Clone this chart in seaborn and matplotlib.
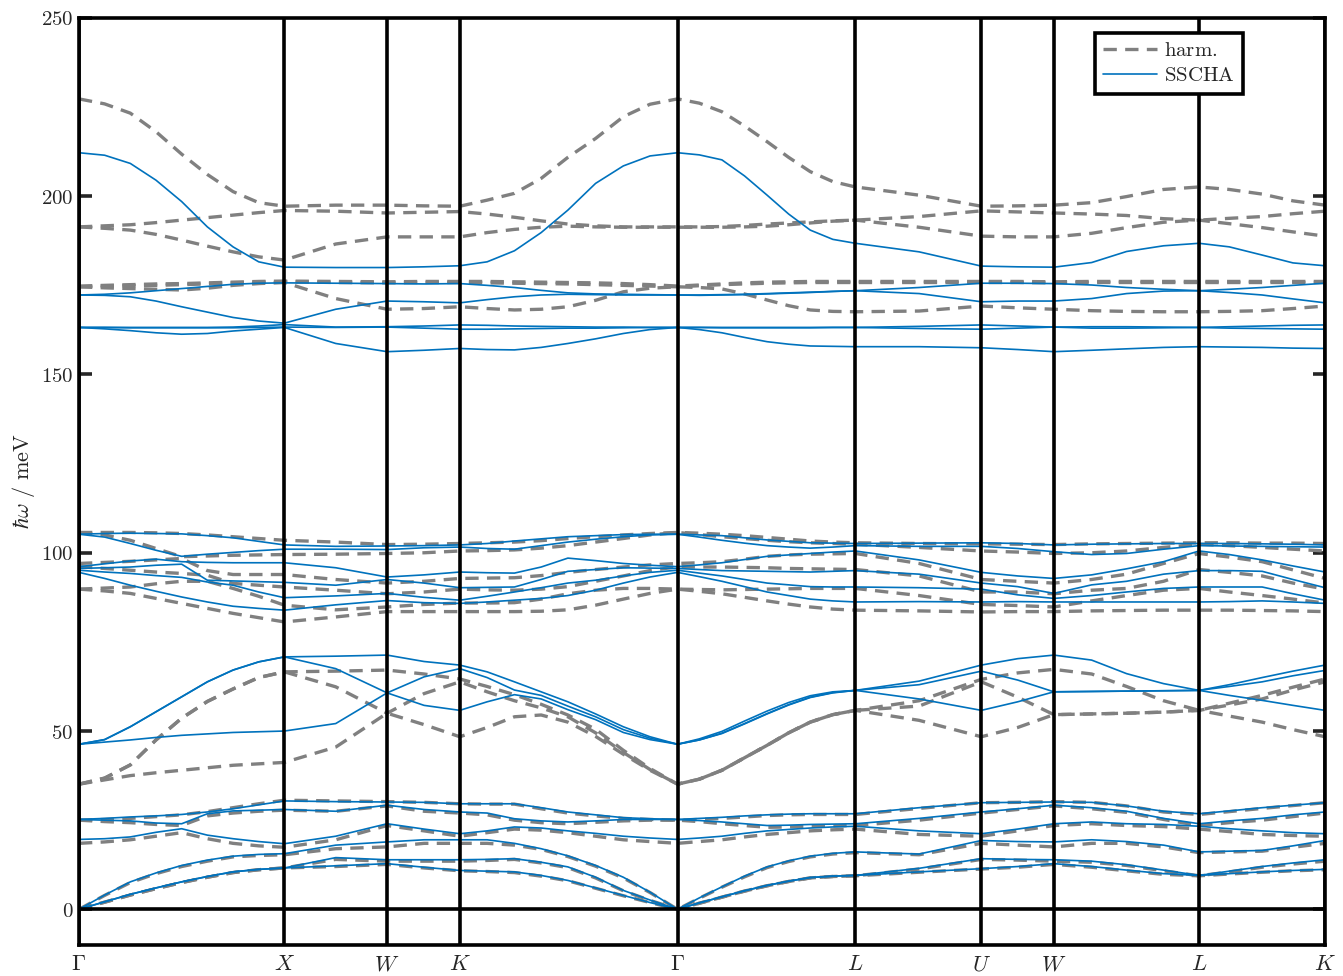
import matplotlib
matplotlib.use("Agg")
import matplotlib.pyplot as plt
from matplotlib.lines import Line2D
import pandas as pd
import seaborn as sns

# path coordinates of the sampled q-points (Γ-X-W-K-Γ-L-U-W-L-K)
kpath = [0.0, 0.125, 0.25, 0.375, 0.5, 0.625, 0.75, 0.875, 1.0,      # Γ-X
         1.25, 1.5,                                                   # X-W
         1.68, 1.854,                                                 # W-K
         1.987, 2.12, 2.25, 2.38, 2.515, 2.65, 2.78, 2.914,           # K-Γ
         3.02, 3.13, 3.24, 3.35, 3.455, 3.56, 3.67, 3.78,             # Γ-L
         4.09, 4.393,                                                 # L-U
         4.57, 4.746,                                                 # U-W
         4.93, 5.10, 5.28, 5.453,                                     # W-L
         5.60, 5.76, 5.91, 6.066]                                     # L-K
sym_pos = [0.0, 1.0, 1.5, 1.854, 2.914, 3.78, 4.393, 4.746, 5.453, 6.066]
sym_labels = [r"$\Gamma$", "$X$", "$W$", "$K$", r"$\Gamma$", "$L$", "$U$", "$W$", "$L$", "$K$"]
yticks = [0, 50, 100, 150, 200, 250]

# harmonic bands (meV)
harm_high = [
    [227.3, 225.9, 223.3, 218.1, 211.8, 206.1, 201.3, 198.2, 197.2, 197.5, 197.5, 197.3, 197.2,
     198.9, 200.8, 205.0, 210.9, 216.2, 222.3, 225.8, 227.3, 226.1, 223.7, 219.7, 215.3, 210.9, 206.9, 204.1, 202.6,
     200.3, 197.2, 197.3, 197.5, 198.2, 199.9, 201.9, 202.6, 201.9, 200.6, 198.7, 197.5],
    [191.4, 191.7, 192.0, 192.6, 193.3, 194.0, 194.7, 195.4, 196.0, 195.8, 195.3, 195.5, 195.7,
     195.0, 194.1, 193.1, 192.2, 191.7, 191.4, 191.4, 191.4, 191.4, 191.5, 191.8, 192.2, 192.5, 192.8, 193.1, 193.3,
     194.3, 195.9, 195.6, 195.3, 195.0, 194.6, 193.7, 193.3, 193.8, 194.3, 195.1, 195.8],
    [191.4, 191.0, 190.5, 189.3, 187.7, 186.0, 184.4, 183.0, 182.1, 186.6, 188.6, 188.6, 188.6,
     189.8, 190.7, 191.3, 191.6, 191.4, 191.3, 191.3, 191.3, 191.3, 191.3, 191.4, 191.6, 192.0, 192.5, 193.0, 193.3,
     191.3, 188.8, 188.6, 188.6, 189.6, 191.2, 192.7, 193.3, 192.3, 191.2, 190.0, 188.8],
    [174.8, 175.0, 175.2, 175.4, 175.5, 175.7, 175.9, 176.1, 176.2, 176.1, 176.0, 176.1, 176.1,
     176.1, 176.0, 175.9, 175.8, 175.7, 175.5, 175.2, 174.8, 175.1, 175.4, 175.7, 175.9, 176.0, 176.1, 176.1, 176.1,
     176.1, 176.1, 176.1, 176.0, 176.1, 176.1, 176.1, 176.1, 176.1, 176.1, 176.1, 176.1],
    [174.6, 174.8, 174.9, 175.0, 175.2, 175.4, 175.7, 175.9, 176.0, 175.8, 175.7, 175.8, 175.8,
     175.7, 175.6, 175.5, 175.4, 175.2, 175.0, 174.8, 174.6, 174.9, 175.2, 175.4, 175.6, 175.7, 175.8, 175.8, 175.8,
     175.8, 175.8, 175.8, 175.7, 175.8, 175.8, 175.8, 175.8, 175.8, 175.8, 175.8, 175.8],
    [174.6, 174.3, 174.1, 173.9, 173.7, 174.2, 175.0, 175.5, 175.8, 171.3, 168.3, 168.5, 169.0,
     168.5, 168.1, 168.3, 169.0, 170.8, 173.2, 174.2, 174.6, 174.4, 174.0, 172.6, 170.9, 169.3, 168.1, 167.7, 167.6,
     167.8, 169.2, 168.7, 168.3, 167.9, 167.7, 167.6, 167.6, 167.7, 167.9, 168.5, 169.2],
]
harm_mid = [
    [105.7, 105.7, 105.7, 105.6, 105.4, 105.0, 104.5, 104.0, 103.5, 103.0, 102.3, 102.4, 102.6,
     102.8, 103.0, 103.4, 104.0, 104.5, 105.0, 105.4, 105.7, 105.5, 105.2, 104.8, 104.3, 103.8, 103.3, 103.0, 102.8,
     102.6, 102.5, 102.4, 102.3, 102.5, 102.6, 102.7, 102.8, 102.8, 102.7, 102.7, 102.6],
    [105.7, 105.0, 103.5, 101.2, 98.9, 99.1, 99.3, 99.4, 99.5, 99.6, 99.8, 100.0, 100.5,
     100.6, 100.8, 101.3, 102.0, 103.0, 104.0, 105.0, 105.7, 105.1, 104.5, 104.0, 103.5, 103.1, 102.8, 102.6, 102.4,
     101.5, 100.5, 100.2, 99.8, 100.0, 100.5, 101.5, 102.4, 102.0, 101.5, 101.0, 100.5],
    [97.0, 97.3, 97.6, 98.0, 98.4, 95.0, 93.9, 93.9, 93.9, 92.5, 91.5, 92.0, 92.8,
     92.9, 93.0, 93.6, 94.5, 95.3, 96.0, 96.6, 97.0, 97.2, 97.5, 98.2, 99.0, 99.4, 99.6, 99.7, 99.8,
     97.0, 92.5, 92.0, 91.5, 92.5, 94.0, 97.0, 99.8, 98.8, 97.5, 95.2, 92.8],
    [96.1, 95.6, 95.1, 94.6, 94.2, 93.7, 91.4, 90.9, 90.4, 89.5, 88.5, 89.0, 89.8,
     89.6, 89.5, 89.8, 90.5, 92.0, 93.5, 95.0, 96.1, 96.0, 96.0, 95.9, 95.8, 95.6, 95.5, 95.4, 95.3,
     93.5, 89.0, 89.0, 88.5, 89.5, 90.0, 92.0, 95.3, 94.5, 93.5, 91.5, 89.8],
    [89.8, 90.1, 90.4, 91.3, 92.0, 92.0, 90.0, 87.8, 85.3, 84.0, 84.8, 85.5, 85.9,
     85.9, 86.0, 87.0, 88.5, 89.5, 90.0, 90.0, 89.8, 89.7, 89.6, 89.7, 89.8, 89.9, 90.0, 90.0, 90.0,
     88.0, 85.5, 85.2, 84.8, 86.5, 88.0, 89.5, 90.0, 89.0, 88.0, 87.0, 85.9],
    [89.8, 89.3, 88.6, 87.2, 85.8, 84.4, 83.0, 81.8, 80.6, 82.0, 83.5, 83.5, 83.5,
     83.5, 83.5, 83.6, 84.0, 85.3, 87.0, 88.6, 89.8, 89.2, 88.5, 87.5, 86.5, 85.6, 84.8, 84.2, 83.9,
     83.7, 83.4, 83.5, 83.5, 83.7, 83.8, 83.9, 83.9, 83.9, 83.8, 83.7, 83.5],
]
harm_opt = [
    [35.1, 36.8, 40.5, 47.5, 53.6, 58.3, 61.8, 65.0, 66.6, 66.8, 67.1, 66.0, 64.6,
     62.5, 60.2, 57.5, 54.5, 50.5, 44.6, 39.5, 35.1, 36.5, 39.0, 42.5, 46.0, 49.5, 52.5, 54.6, 55.8,
     58.5, 64.5, 66.3, 67.3, 66.0, 62.5, 58.5, 55.8, 57.8, 60.0, 62.3, 64.6],
    [35.1, 36.8, 40.5, 47.5, 53.6, 58.3, 61.8, 65.0, 66.6, 62.4, 55.0, 60.5, 63.8,
     61.0, 58.5, 56.5, 54.0, 49.5, 44.0, 39.2, 35.1, 36.5, 39.0, 42.5, 46.0, 49.5, 52.5, 54.6, 55.8,
     57.0, 63.8, 59.5, 54.6, 54.8, 55.0, 55.3, 55.8, 57.3, 59.0, 61.5, 63.8],
    [35.1, 36.3, 37.5, 38.3, 39.0, 39.7, 40.4, 40.8, 41.2, 45.5, 55.0, 51.8, 48.4,
     51.0, 54.0, 54.5, 52.5, 48.5, 43.5, 39.0, 35.1, 36.5, 39.0, 42.5, 46.0, 49.5, 52.5, 54.6, 55.8,
     53.0, 48.4, 51.0, 54.6, 54.8, 55.0, 55.3, 55.8, 54.2, 52.5, 50.4, 48.4],
]
harm_low = [
    [25.0, 25.2, 25.5, 26.0, 26.5, 27.4, 28.5, 29.6, 30.6, 30.4, 30.2, 30.0, 29.6,
     29.5, 29.5, 28.2, 27.0, 26.2, 25.5, 25.2, 25.0, 25.2, 25.5, 25.9, 26.3, 26.5, 26.6, 26.6, 26.6,
     28.3, 29.9, 30.0, 30.2, 30.0, 29.0, 27.3, 26.6, 27.4, 28.3, 29.1, 29.9],
    [25.0, 24.6, 24.3, 23.8, 23.5, 26.2, 27.0, 27.5, 27.8, 27.5, 29.0, 27.5, 27.0,
     26.5, 25.0, 24.3, 24.0, 24.4, 24.8, 25.0, 25.0, 24.6, 24.0, 23.5, 23.0, 23.1, 23.3, 23.4, 23.5,
     25.0, 27.0, 28.0, 29.0, 28.2, 27.2, 25.2, 23.5, 24.3, 25.0, 26.0, 27.0],
    [18.5, 18.9, 19.5, 20.5, 21.5, 19.8, 18.5, 17.8, 17.4, 19.5, 23.5, 22.0, 20.5,
     21.5, 22.5, 22.2, 21.5, 20.5, 19.5, 19.0, 18.5, 19.0, 19.5, 20.3, 21.0, 21.5, 22.0, 22.3, 22.5,
     21.0, 20.5, 22.0, 23.5, 24.0, 23.5, 23.2, 22.5, 21.8, 21.0, 20.7, 20.5],
    [0.0, 3.9, 7.5, 10.0, 12.0, 13.5, 14.7, 15.1, 15.3, 17.0, 17.5, 18.5, 18.5,
     18.5, 18.0, 16.8, 14.8, 12.1, 8.8, 4.7, 0.0, 3.1, 6.2, 9.1, 11.7, 13.4, 14.7, 15.5, 15.9,
     15.3, 18.5, 18.0, 17.5, 18.5, 18.5, 17.5, 15.9, 16.1, 16.3, 17.4, 18.5],
    [0.0, 2.0, 4.0, 5.8, 7.5, 9.0, 10.3, 11.1, 11.6, 14.0, 13.5, 13.5, 13.5,
     13.7, 14.0, 13.0, 11.7, 8.8, 5.2, 2.5, 0.0, 1.7, 3.4, 5.1, 6.6, 7.8, 8.8, 9.2, 9.4,
     11.3, 14.0, 13.8, 13.5, 13.2, 12.3, 10.8, 9.4, 10.5, 11.8, 12.7, 13.5],
    [0.0, 2.0, 4.0, 5.8, 7.5, 9.0, 10.3, 11.1, 11.6, 12.0, 12.6, 11.6, 10.8,
     10.6, 10.3, 9.3, 8.0, 5.9, 3.8, 1.9, 0.0, 1.7, 3.4, 5.1, 6.6, 7.8, 8.8, 9.2, 9.4,
     10.4, 11.3, 11.8, 12.6, 11.8, 10.8, 9.8, 9.4, 9.9, 10.4, 10.8, 11.1],
]

# SSCHA bands (meV)
sscha_high = [
    [212.2, 211.5, 209.2, 204.5, 198.5, 191.4, 185.8, 181.6, 180.1, 180.0, 180.0, 180.2, 180.5,
     181.6, 184.7, 189.8, 196.1, 203.6, 208.5, 211.3, 212.2, 211.6, 210.2, 205.7, 200.3, 195.0, 190.5, 187.9, 186.8,
     184.4, 180.4, 180.2, 180.1, 181.4, 184.5, 186.1, 186.8, 185.8, 183.5, 181.3, 180.5],
    [172.3, 172.5, 172.9, 173.5, 174.1, 174.7, 175.3, 175.6, 175.7, 175.6, 175.5, 175.4, 175.5,
     175.0, 174.4, 173.6, 172.9, 172.6, 172.5, 172.4, 172.3, 172.3, 172.4, 172.5, 172.7, 172.9, 173.1, 173.3, 173.5,
     174.4, 175.6, 175.6, 175.5, 175.1, 174.4, 173.9, 173.5, 173.9, 174.4, 175.0, 175.6],
    [172.3, 172.2, 171.8, 170.6, 169.0, 167.5, 166.0, 165.0, 164.4, 168.3, 170.6, 170.4, 170.1,
     171.0, 171.8, 172.3, 172.5, 172.4, 172.3, 172.3, 172.3, 172.2, 172.3, 172.4, 172.6, 172.8, 173.0, 173.3, 173.5,
     172.7, 170.4, 170.6, 170.6, 171.3, 172.7, 173.4, 173.5, 173.0, 172.3, 171.2, 170.1],
    [163.2, 163.2, 163.2, 163.2, 163.2, 163.2, 163.3, 163.6, 164.0, 163.3, 163.4, 163.6, 163.9,
     163.8, 163.6, 163.5, 163.4, 163.3, 163.3, 163.2, 163.2, 163.2, 163.2, 163.2, 163.2, 163.2, 163.2, 163.2, 163.2,
     163.5, 163.9, 163.6, 163.3, 163.4, 163.4, 163.3, 163.2, 163.4, 163.6, 163.8, 163.9],
    [163.2, 163.2, 163.1, 163.1, 163.1, 163.1, 163.1, 163.2, 163.3, 163.2, 163.3, 163.0, 162.7,
     162.7, 162.8, 162.9, 163.0, 163.0, 163.1, 163.2, 163.2, 163.2, 163.1, 163.1, 163.1, 163.1, 163.1, 163.2, 163.2,
     162.9, 162.7, 163.0, 163.3, 163.0, 163.0, 163.1, 163.2, 163.0, 162.9, 162.8, 162.7],
    [163.2, 162.8, 162.3, 161.7, 161.3, 161.5, 162.2, 162.7, 163.2, 158.7, 156.4, 156.8, 157.3,
     157.0, 156.9, 157.6, 158.7, 160.0, 161.5, 162.6, 163.2, 162.6, 161.7, 160.4, 159.2, 158.5, 158.0, 157.9, 157.8,
     157.8, 157.5, 157.0, 156.4, 156.8, 157.2, 157.6, 157.8, 157.7, 157.6, 157.4, 157.3],
]
sscha_mid = [
    [105.2, 105.4, 105.5, 105.4, 105.3, 104.8, 104.2, 103.2, 102.2, 101.8, 101.9, 102.0, 102.2,
     102.6, 103.3, 103.9, 104.5, 104.8, 105.1, 105.2, 105.2, 105.0, 104.8, 104.2, 103.6, 103.2, 102.8, 102.7, 102.6,
     102.7, 102.8, 102.6, 102.2, 102.4, 102.5, 102.6, 102.6, 102.6, 102.5, 102.4, 102.2],
    [105.2, 104.4, 102.6, 100.7, 99.0, 99.6, 100.1, 100.6, 101.0, 101.0, 100.9, 101.4, 101.6,
     101.2, 101.0, 102.0, 103.0, 103.8, 104.5, 105.0, 105.2, 104.4, 103.5, 102.7, 102.0, 101.6, 101.3, 101.6, 102.0,
     101.8, 101.8, 101.2, 100.3, 99.5, 99.8, 101.0, 102.0, 101.9, 101.8, 101.7, 101.6],
    [96.1, 96.9, 97.7, 98.2, 97.5, 97.3, 97.2, 97.2, 97.2, 95.8, 93.2, 93.8, 94.6,
     94.4, 94.3, 96.0, 98.5, 97.8, 97.0, 96.5, 96.1, 96.6, 97.2, 98.1, 99.0, 99.4, 99.8, 100.2, 100.5,
     98.0, 94.5, 93.5, 92.8, 93.8, 95.5, 97.5, 100.5, 99.5, 98.0, 96.3, 94.6],
    [95.6, 95.8, 96.0, 96.5, 96.8, 92.3, 92.1, 91.9, 91.7, 90.9, 92.5, 91.5, 90.2,
     90.3, 90.4, 92.5, 94.8, 95.3, 95.8, 95.7, 95.6, 95.3, 95.0, 94.9, 94.8, 94.7, 94.6, 94.8, 95.0,
     94.0, 91.5, 90.5, 88.6, 91.0, 92.0, 94.0, 95.0, 95.0, 94.8, 92.5, 90.2],
    [95.1, 94.6, 94.2, 93.6, 93.1, 91.8, 90.9, 89.0, 87.4, 87.9, 88.6, 87.5, 86.7,
     87.8, 89.0, 90.2, 91.5, 92.3, 93.5, 94.5, 95.1, 94.3, 93.5, 92.5, 91.5, 91.0, 90.5, 90.4, 90.4,
     90.2, 89.8, 88.2, 87.2, 88.0, 89.0, 90.0, 90.4, 90.4, 90.4, 88.5, 86.7],
    [94.5, 92.8, 90.9, 89.2, 87.6, 86.2, 85.0, 84.4, 83.9, 85.4, 86.6, 86.0, 85.8,
     86.2, 86.7, 87.2, 88.0, 89.5, 91.5, 93.2, 94.5, 93.3, 92.0, 90.5, 89.0, 88.0, 87.0, 86.5, 86.2,
     86.3, 86.2, 86.3, 86.2, 86.2, 86.2, 86.2, 86.2, 86.3, 86.5, 86.2, 85.8],
]
sscha_opt = [
    [46.3, 47.6, 51.2, 55.4, 59.6, 63.8, 67.1, 69.4, 70.8, 71.0, 71.3, 69.5, 68.5,
     66.6, 63.8, 61.0, 58.2, 54.8, 51.2, 48.4, 46.3, 47.8, 49.9, 52.8, 55.6, 58.0, 59.9, 61.0, 61.4,
     64.0, 68.5, 70.3, 71.3, 69.9, 66.1, 63.3, 61.4, 63.0, 65.0, 66.8, 68.5],
    [46.3, 47.6, 51.2, 55.4, 59.6, 63.8, 67.1, 69.4, 70.8, 67.5, 60.7, 65.2, 67.5,
     65.0, 61.5, 60.0, 57.0, 54.0, 50.4, 48.0, 46.3, 47.5, 49.4, 52.1, 54.9, 57.4, 59.5, 60.8, 61.4,
     63.0, 66.8, 64.3, 61.0, 61.1, 61.2, 61.3, 61.4, 62.5, 63.8, 65.5, 67.0],
    [46.3, 46.9, 47.5, 48.2, 48.8, 49.2, 49.6, 49.8, 50.0, 52.1, 60.7, 57.2, 55.8,
     58.2, 60.2, 59.0, 56.0, 53.2, 49.6, 47.6, 46.3, 47.5, 49.3, 52.0, 54.8, 57.3, 59.4, 60.7, 61.4,
     59.0, 55.8, 58.2, 61.0, 61.1, 61.2, 61.3, 61.4, 60.0, 58.6, 57.2, 55.8],
]
sscha_low = [
    [25.2, 25.5, 25.9, 26.2, 26.6, 27.3, 28.2, 29.3, 30.4, 30.2, 30.1, 30.0, 29.6,
     29.6, 29.6, 28.5, 27.3, 26.5, 25.7, 25.4, 25.2, 25.5, 25.8, 26.2, 26.5, 26.7, 26.8, 26.8, 26.8,
     28.5, 29.9, 30.0, 30.1, 30.0, 29.0, 27.5, 26.8, 27.6, 28.5, 29.2, 29.9],
    [25.2, 25.0, 24.8, 24.2, 24.0, 26.8, 27.6, 27.8, 28.0, 27.5, 29.2, 28.0, 27.3,
     27.0, 25.4, 24.8, 24.5, 24.8, 25.2, 25.2, 25.2, 24.9, 24.5, 24.0, 23.5, 23.6, 23.8, 23.9, 24.0,
     25.5, 27.3, 28.2, 29.2, 28.5, 27.5, 25.5, 24.0, 24.8, 25.5, 26.5, 27.3],
    [19.6, 19.8, 20.3, 21.6, 22.6, 20.8, 19.8, 19.0, 18.4, 20.5, 24.0, 22.5, 21.2,
     22.0, 23.1, 22.8, 22.0, 21.3, 20.5, 20.0, 19.6, 20.0, 20.5, 21.3, 22.0, 22.4, 22.8, 23.1, 23.3,
     22.0, 21.2, 22.5, 24.0, 24.5, 24.0, 23.8, 23.3, 22.6, 22.0, 21.5, 21.2],
    [0.0, 4.0, 7.7, 10.2, 12.3, 13.8, 14.9, 15.4, 15.6, 18.0, 18.9, 19.5, 19.5,
     19.5, 18.5, 17.0, 15.0, 12.3, 9.0, 4.8, 0.0, 3.2, 6.3, 9.3, 11.9, 13.6, 14.9, 15.7, 16.1,
     15.5, 19.3, 19.0, 18.9, 19.5, 19.0, 18.0, 16.1, 16.3, 16.5, 17.8, 19.3],
    [0.0, 2.1, 4.2, 6.0, 7.7, 9.2, 10.5, 11.2, 11.6, 14.5, 13.9, 13.9, 13.9,
     14.0, 14.2, 13.2, 11.9, 9.0, 5.3, 2.6, 0.0, 1.8, 3.5, 5.2, 6.7, 7.9, 8.9, 9.3, 9.5,
     11.5, 14.2, 14.0, 13.9, 13.5, 12.5, 11.0, 9.5, 10.7, 12.0, 13.0, 13.9],
    [0.0, 2.1, 4.2, 6.0, 7.7, 9.2, 10.5, 11.2, 11.6, 12.2, 12.8, 11.8, 10.9,
     10.7, 10.5, 9.5, 8.1, 6.0, 3.9, 1.9, 0.0, 1.8, 3.5, 5.2, 6.7, 7.9, 8.9, 9.3, 9.5,
     10.5, 11.4, 12.0, 12.8, 12.0, 11.0, 10.0, 9.5, 10.0, 10.5, 10.9, 11.2],
]


def to_frame(groups):
    """Long table: one row per (band, q-point)"""
    rows = []
    band_id = 0
    for group in groups:
        for band in group:
            if len(band) != len(kpath):
                raise ValueError(f"band {band_id} has {len(band)} points")
            for k, e in zip(kpath, band):
                rows.append({"k": k, "E": e, "band": band_id})
            band_id += 1
    return pd.DataFrame(rows)


def main():
    sns.set_theme(style="white")
    plt.rcParams["font.family"] = ["DejaVu Serif"]
    plt.rcParams["mathtext.fontset"] = "cm"

    df_harm = to_frame([harm_high, harm_mid, harm_opt, harm_low])
    df_ssc = to_frame([sscha_high, sscha_mid, sscha_opt, sscha_low])

    fig = plt.figure(figsize=(13.43, 9.76), dpi=100)
    ax = fig.add_axes([0.0588, 0.0318, 0.9278, 0.9498])

    harm_color = "#808080"
    ssc_color = "#0072BD"

    sns.lineplot(data=df_harm, x="k", y="E", units="band", estimator=None,
                 color=harm_color, linewidth=2.4, linestyle=(0, (4, 2.5)),
                 legend=False, ax=ax)
    sns.lineplot(data=df_ssc, x="k", y="E", units="band", estimator=None,
                 color=ssc_color, linewidth=1.2, legend=False, ax=ax)

    # high-symmetry lines and zero line
    for x in sym_pos:
        ax.axvline(x, color="black", linewidth=2.6, zorder=3)
    ax.axhline(0, color="black", linewidth=2.6, zorder=3)

    ax.set_xlim(sym_pos[0], sym_pos[-1])
    ax.set_ylim(-10, 250)
    ax.set_xticks(sym_pos)
    ax.set_xticklabels(sym_labels, fontsize=16)
    ax.set_yticks(yticks)
    ax.set_yticklabels([f"${v}$" for v in yticks], fontsize=15)
    ax.tick_params(axis="x", length=0, pad=6)
    ax.tick_params(axis="y", direction="in", length=9, width=2.6,
                   left=True, right=True, pad=4)
    ax.set_xlabel("")
    ax.set_ylabel(r"$\hbar\omega\ /\ \mathrm{meV}$", fontsize=16, labelpad=3)
    for sp in ax.spines.values():
        sp.set_linewidth(2.6)
        sp.set_color("black")

    handles = [
        Line2D([], [], color=harm_color, linewidth=2.4, linestyle=(0, (4, 2.5))),
        Line2D([], [], color=ssc_color, linewidth=1.2),
    ]
    leg = ax.legend(handles, [r"$\mathrm{harm.}$", r"$\mathrm{SSCHA}$"],
                    loc="upper right", bbox_to_anchor=(0.934, 0.984),
                    borderaxespad=0, fontsize=15, frameon=True, fancybox=False,
                    handlelength=2.6, handletextpad=0.3, borderpad=0.4,
                    labelspacing=0.3)
    leg.get_frame().set_edgecolor("black")
    leg.get_frame().set_linewidth(2.6)
    leg.get_frame().set_alpha(1)

    fig.savefig("out.png", dpi=100)
    plt.close(fig)


if __name__ == "__main__":
    main()
